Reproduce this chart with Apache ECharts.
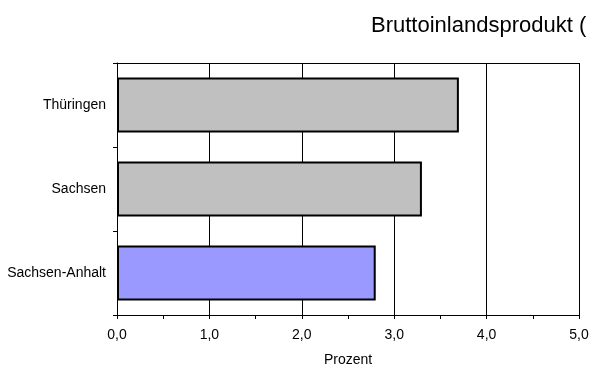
<!DOCTYPE html>
<html>
<head>
<meta charset="utf-8">
<script src="https://cdn.jsdelivr.net/npm/echarts@6/dist/echarts.min.js"></script>
<style>html,body{margin:0;padding:0;background:#fff;overflow:hidden}#c{width:591px;height:365px}</style>
</head>
<body>
<div id="c"></div>
<script>
const categories = ['Sachsen-Anhalt', 'Sachsen', 'Thüringen'];
const values = [2.8, 3.3, 3.7];
const barColors = ['#9999ff', '#c0c0c0', '#c0c0c0'];
const titleText = 'Bruttoinlandsprodukt (';
const axisName = 'Prozent';
const xMin = 0, xMax = 5, xStep = 1;

const FONT = '"Liberation Sans", Arial, sans-serif';
const chart = echarts.init(document.getElementById('c'), null, {renderer: 'canvas'});
chart.setOption({
  animation: false,
  backgroundColor: '#fff',
  title: {
    text: titleText, left: 366, top: 10,
    textStyle: {fontFamily: FONT, fontSize: 22, fontWeight: 'normal', color: '#000'}
  },
  grid: {left: 117, right: 12, top: 63, bottom: 50, containLabel: false, outerBoundsMode: 'none'},
  xAxis: [{
    type: 'value', min: xMin, max: xMax, interval: xStep,
    name: axisName, nameLocation: 'middle', nameGap: 38,
    nameTextStyle: {fontFamily: FONT, fontSize: 14, color: '#000'},
    axisLine: {show: true, lineStyle: {color: '#000', width: 1}},
    axisTick: {show: true, length: 4, lineStyle: {color: '#000'}},
    minorTick: {show: true, splitNumber: 2, length: 4, lineStyle: {color: '#000'}},
    splitLine: {show: true, lineStyle: {color: '#000', width: 1}},
    axisLabel: {fontFamily: FONT, fontSize: 14, color: '#000', margin: 13,
      formatter: v => v.toFixed(1).replace('.', ',')}
  }, {
    type: 'value', position: 'top', min: xMin, max: xMax,
    axisLine: {show: true, lineStyle: {color: '#000', width: 1}},
    axisTick: {show: false}, axisLabel: {show: false}, splitLine: {show: false}
  }],
  yAxis: {
    type: 'category', data: categories,
    axisLine: {show: true, lineStyle: {color: '#000', width: 1}},
    axisTick: {show: true, length: 4, lineStyle: {color: '#000'}},
    axisLabel: {fontFamily: FONT, fontSize: 14, color: '#000', margin: 11}
  },
  series: [{
    type: 'bar', xAxisIndex: 0,
    data: values.map((v, i) => ({value: v, itemStyle: {color: barColors[i]}})),
    barWidth: 55,
    itemStyle: {borderColor: '#000', borderWidth: 2}
  }]
});
</script>
</body>
</html>
